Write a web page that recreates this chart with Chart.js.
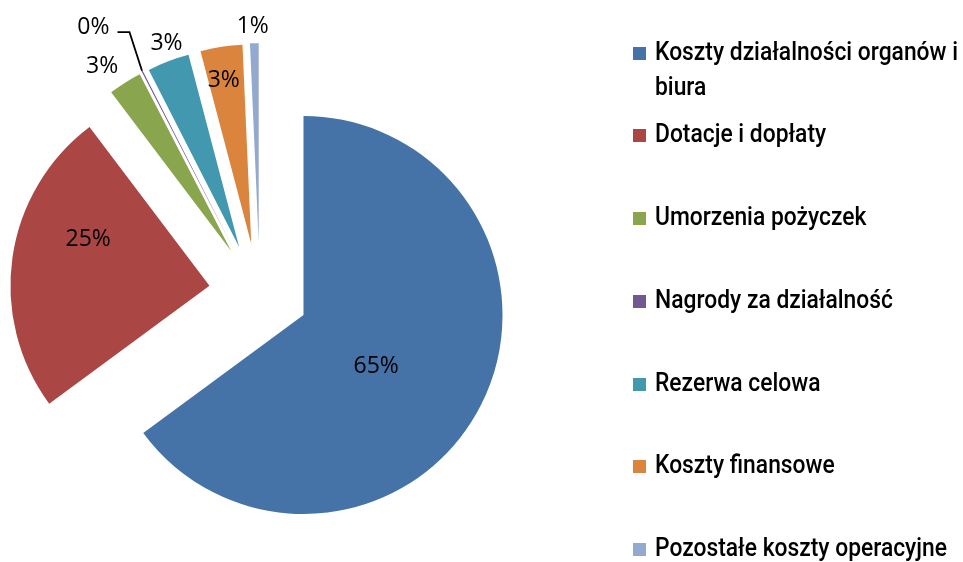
<!DOCTYPE html>
<html>
<head>
<meta charset="utf-8">
<script src="https://cdn.jsdelivr.net/npm/chart.js@4.4.1/dist/chart.umd.min.js"></script>
<style>
  html, body { margin: 0; padding: 0; background: #ffffff; }
  #wrap { position: relative; width: 963px; height: 562px; overflow: hidden; }
  #wrap canvas { position: absolute; left: 0; top: 0; }
  .item { position: absolute; left: 633px; height: 80px; }
  .swatch { position: absolute; left: 0; top: 13px; width: 13px; height: 13px; }
  .text {
    position: absolute; left: 22px; top: 0;
    font-family: Roboto, "Noto Sans", sans-serif; font-size: 25px; font-weight: 500; line-height: 35px;
    color: #000000; transform-origin: 0 0; white-space: normal;
  }
</style>
</head>
<body>
<div id="wrap">
  <canvas id="chart" width="963" height="562"></canvas>
  <div id="legend"></div>
</div>
<script>
const labels = [
  "Koszty działalności organów i biura",
  "Dotacje i dopłaty",
  "Umorzenia pożyczek",
  "Nagrody za działalność",
  "Rezerwa celowa",
  "Koszty finansowe",
  "Pozostałe koszty operacyjne"
];
const values = [64.9, 24.8, 2.7, 0.1, 3.4, 3.4, 0.7];
const colors = ["#4572A7", "#AA4643", "#89A54E", "#71588F", "#4198AF", "#DB843D", "#93A9CF"];

// exploded slices: distance (px) and direction (deg, clockwise from 12 o'clock)
const explodeDist = [0, 98.5, 96.6, 97.5, 93.4, 88.5, 85.5];
const explodeDir = [0, 287.3, 311.5, 313.6, 316.5, 323.8, 328.4];

// data label placement: radius as share of the slice radius, turn in deg from the slice middle
const labelRadius = [0.443, 0.655, 1.138, 1.316, 1.096, 0.842, 1.092];
const labelShift = [7.7, 13.2, -2.5, -5, 1.4, -0.8, -0.3];

const LABEL_SIZE = 23;

const explodePlugin = {
  id: "explode",
  afterDatasetUpdate(chart, args) {
    const meta = chart.getDatasetMeta(args.index);
    meta.data.forEach((arc, i) => {
      const a = explodeDir[i] * Math.PI / 180;
      arc.x += explodeDist[i] * Math.sin(a);
      arc.y -= explodeDist[i] * Math.cos(a);
    });
  }
};

const labelPlugin = {
  id: "sliceLabels",
  afterDatasetsDraw(chart) {
    const ctx = chart.ctx;
    const meta = chart.getDatasetMeta(0);
    const total = values.reduce((s, v) => s + v, 0);
    ctx.save();
    ctx.font = LABEL_SIZE + 'px "Open Sans"';
    ctx.fillStyle = "#000000";
    ctx.textAlign = "center";
    ctx.textBaseline = "alphabetic";
    meta.data.forEach((arc, i) => {
      const p = arc.getProps(["x", "y", "startAngle", "endAngle", "outerRadius"], true);
      const midRaw = (p.startAngle + p.endAngle) / 2;
      const mid = midRaw + labelShift[i] * Math.PI / 180;
      const d = labelRadius[i] * p.outerRadius;
      const lx = p.x + Math.cos(mid) * d;
      const ly = p.y + Math.sin(mid) * d;
      const text = Math.round(values[i] / total * 100) + "%";
      ctx.fillText(text, lx, ly + LABEL_SIZE * 0.357);

      if (labelRadius[i] > 1.2) {
        // leader line for a label pulled far away from its slice
        const w = ctx.measureText(text).width;
        ctx.beginPath();
        ctx.strokeStyle = "#000000";
        ctx.lineWidth = 1.8;
        ctx.moveTo(p.x + Math.cos(midRaw) * p.outerRadius, p.y + Math.sin(midRaw) * p.outerRadius);
        ctx.lineTo(lx + w / 2 + 20, ly + 6);
        ctx.lineTo(lx + w / 2 + 8, ly + 6);
        ctx.stroke();
      }
    });
    ctx.restore();
  }
};

new Chart(document.getElementById("chart"), {
  type: "pie",
  data: {
    labels: labels,
    datasets: [{
      data: values,
      backgroundColor: colors,
      borderWidth: 0,
      radius: 199,
      clip: false
    }]
  },
  options: {
    responsive: false,
    animation: false,
    layout: { padding: { left: 0, right: 356, top: 68, bottom: 0 } },
    plugins: {
      legend: { display: false },
      tooltip: { enabled: false }
    }
  },
  plugins: [explodePlugin, labelPlugin]
});

// legend on the right
const measure = document.createElement("canvas").getContext("2d");
measure.font = "500 25px Roboto";
const squeeze = 303 / measure.measureText("Koszty działalności organów i").width;
const legend = document.getElementById("legend");
labels.forEach((name, i) => {
  const baseline = 59.5 + i * 82.75;
  const item = document.createElement("div");
  item.className = "item";
  item.style.top = (baseline - 26) + "px";
  const sw = document.createElement("div");
  sw.className = "swatch";
  sw.style.background = colors[i];
  const tx = document.createElement("div");
  tx.className = "text";
  tx.style.width = ((963 - 655) / squeeze) + "px";
  tx.style.transform = "scaleX(" + squeeze + ")";
  tx.textContent = name;
  item.appendChild(sw);
  item.appendChild(tx);
  legend.appendChild(item);
});
</script>
</body>
</html>
